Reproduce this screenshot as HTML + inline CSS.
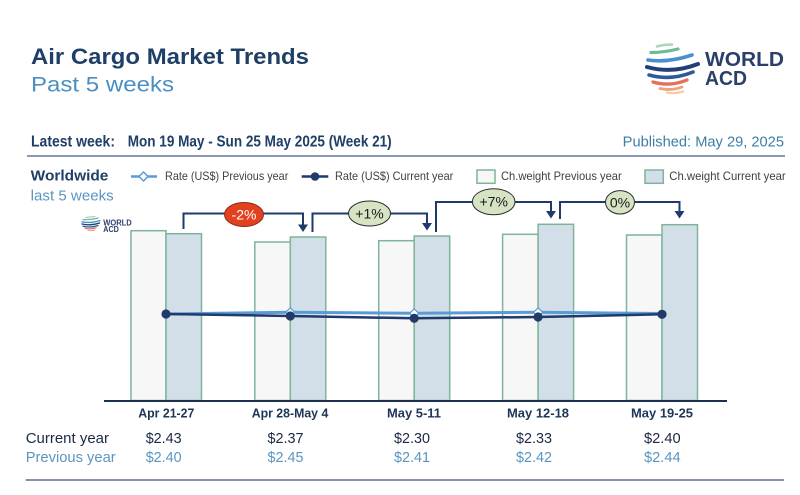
<!DOCTYPE html>
<html>
<head>
<meta charset="utf-8">
<style>
  html,body{margin:0;padding:0;background:#ffffff;}
  body{width:800px;height:495px;overflow:hidden;}
  svg{display:block;}
  text{font-family:"Liberation Sans", Arial, sans-serif;}
</style>
</head>
<body>
<svg width="800" height="495" viewBox="0 0 800 495" xmlns="http://www.w3.org/2000/svg">
  <rect width="800" height="495" fill="#ffffff"/>

  <!-- Header -->
  <text x="31" y="64" font-size="22.5" font-weight="bold" fill="#1f3f66" textLength="278" lengthAdjust="spacingAndGlyphs">Air Cargo Market Trends</text>
  <text x="31" y="91.5" font-size="21" fill="#4a8fc2" textLength="143" lengthAdjust="spacingAndGlyphs">Past 5 weeks</text>

  <!-- Big logo -->
  <g fill="none" stroke-linecap="round">
    <path d="M657 46.5 Q664 44.5 672 44.5" stroke="#a9d5bc" stroke-width="2.5"/>
    <path d="M651 52.5 Q664 52.5 678 49" stroke="#6fb996" stroke-width="3.2"/>
    <path d="M648 60 Q668 63 692 55" stroke="#4a8fd0" stroke-width="3.6"/>
    <path d="M647 67 Q672 74 698 64" stroke="#233f78" stroke-width="4"/>
    <path d="M649 75 Q671 81 693 72" stroke="#2d5a9a" stroke-width="3.6"/>
    <path d="M653 82 Q670 87 687 80" stroke="#e2705a" stroke-width="3.3"/>
    <path d="M660 88.5 Q672 91 682 87" stroke="#f0a074" stroke-width="2.8"/>
    <path d="M667 92.5 Q675 94 683 91.5" stroke="#f6cba6" stroke-width="2.4"/>
  </g>
  <text x="705" y="66" font-size="20" font-weight="bold" fill="#2a3f6b" textLength="79" lengthAdjust="spacingAndGlyphs">WORLD</text>
  <text x="705" y="85" font-size="20" font-weight="bold" fill="#2a3f6b" textLength="42" lengthAdjust="spacingAndGlyphs">ACD</text>

  <!-- Latest week line -->
  <text x="31" y="146.7" font-size="16" font-weight="bold" fill="#1f3f66" textLength="84" lengthAdjust="spacingAndGlyphs">Latest week:</text>
  <text x="127.7" y="146.7" font-size="16" font-weight="bold" fill="#1f3f66" textLength="264" lengthAdjust="spacingAndGlyphs">Mon 19 May - Sun 25 May 2025 (Week 21)</text>
  <text x="622.7" y="146.7" font-size="14.5" fill="#3d7ea6" textLength="161.3" lengthAdjust="spacingAndGlyphs">Published: May 29, 2025</text>
  <line x1="27" y1="156" x2="785" y2="156" stroke="#7a8aa8" stroke-width="1.8"/>

  <!-- Worldwide -->
  <text x="30.7" y="180.7" font-size="15" font-weight="bold" fill="#1f3f66" textLength="77.7" lengthAdjust="spacingAndGlyphs">Worldwide</text>
  <text x="30.7" y="200.7" font-size="15" fill="#5b95c0" textLength="83" lengthAdjust="spacingAndGlyphs">last 5 weeks</text>

  <!-- Legend -->
  <line x1="131" y1="176.5" x2="157" y2="176.5" stroke="#5b9bd5" stroke-width="2.5"/>
  <path d="M143.5 172 L148 176.5 L143.5 181 L139 176.5 Z" fill="#ffffff" stroke="#5b9bd5" stroke-width="1.5"/>
  <text x="165" y="180" font-size="12" fill="#404040" textLength="123.3" lengthAdjust="spacingAndGlyphs">Rate (US$) Previous year</text>

  <line x1="301.7" y1="176.5" x2="328.3" y2="176.5" stroke="#1f3a6b" stroke-width="2.5"/>
  <circle cx="315" cy="176.5" r="4.3" fill="#1f3a6b"/>
  <text x="335" y="180" font-size="12" fill="#404040" textLength="118.3" lengthAdjust="spacingAndGlyphs">Rate (US$) Current year</text>

  <rect x="477" y="170" width="18" height="13.3" fill="#f7f7f7" stroke="#7fb39a" stroke-width="1.5"/>
  <text x="501" y="180" font-size="12" fill="#404040" textLength="120.7" lengthAdjust="spacingAndGlyphs">Ch.weight Previous year</text>

  <rect x="645" y="170" width="18.3" height="13.3" fill="#d3dfe8" stroke="#7fb39a" stroke-width="1.5"/>
  <text x="669.3" y="180" font-size="12" fill="#404040" textLength="116.4" lengthAdjust="spacingAndGlyphs">Ch.weight Current year</text>

  <!-- Small logo -->
  <g fill="none" stroke-linecap="round">
    <path d="M86 217.5 Q91 216.5 95 216.8" stroke="#8cc7a8" stroke-width="1"/>
    <path d="M83 219.5 Q91 220 98 218" stroke="#6fb996" stroke-width="1.2"/>
    <path d="M82 221.8 Q91 223.5 100 220.5" stroke="#4a8fd0" stroke-width="1.3"/>
    <path d="M82 224 Q91 226 99.5 223" stroke="#233f78" stroke-width="1.4"/>
    <path d="M83 226.3 Q91 228 98 225.5" stroke="#2d5a9a" stroke-width="1.3"/>
    <path d="M85 228.3 Q91 229.5 96 227.8" stroke="#e2705a" stroke-width="1.2"/>
    <path d="M88 230.3 Q92 231 95 230" stroke="#f0a074" stroke-width="1"/>
  </g>
  <text x="103.3" y="225.3" font-size="8" font-weight="bold" fill="#2a3f6b" textLength="28.4" lengthAdjust="spacingAndGlyphs">WORLD</text>
  <text x="103.3" y="232" font-size="8" font-weight="bold" fill="#2a3f6b" textLength="15.5" lengthAdjust="spacingAndGlyphs">ACD</text>

  <!-- Bars -->
  <g stroke="#7fb39a" stroke-width="1.5">
    <rect x="131" y="230.7" width="35" height="169.8" fill="#f7f7f7"/>
    <rect x="166" y="233.7" width="35.5" height="166.8" fill="#d3dfe8"/>

    <rect x="254.8" y="242" width="35.5" height="158.5" fill="#f7f7f7"/>
    <rect x="290.3" y="237" width="35.5" height="163.5" fill="#d3dfe8"/>

    <rect x="378.7" y="240.7" width="35.5" height="159.8" fill="#f7f7f7"/>
    <rect x="414.2" y="236" width="35.5" height="164.5" fill="#d3dfe8"/>

    <rect x="502.6" y="234.3" width="35.5" height="166.2" fill="#f7f7f7"/>
    <rect x="538.1" y="224.3" width="35.5" height="176.2" fill="#d3dfe8"/>

    <rect x="626.5" y="235" width="35.5" height="165.5" fill="#f7f7f7"/>
    <rect x="662" y="224.7" width="35.5" height="175.8" fill="#d3dfe8"/>
  </g>

  <!-- Axis -->
  <line x1="104" y1="401" x2="727" y2="401" stroke="#1d3050" stroke-width="2"/>

  <!-- Connectors -->
  <g fill="none" stroke="#1f3a6b" stroke-width="2">
    <path d="M183.5 229 V213.5 H303 V226"/>
    <path d="M312.5 232 V213.5 H427 V224"/>
    <path d="M436 232 V202 H551 V212"/>
    <path d="M560 219 V202 H679.5 V212"/>
  </g>
  <g fill="#1f3a6b">
    <path d="M298 224.5 H308 L303 232 Z"/>
    <path d="M422 223 H432 L427 230.5 Z"/>
    <path d="M546 211 H556 L551 218.5 Z"/>
    <path d="M674.5 211 H684.5 L679.5 218.5 Z"/>
  </g>

  <!-- Change labels -->
  <ellipse cx="244" cy="214.5" rx="19.5" ry="12" fill="#e2401f" stroke="#8b2a1a" stroke-width="1"/>
  <text x="244" y="219.5" font-size="14" fill="#ffffff" text-anchor="middle">-2%</text>

  <ellipse cx="369.5" cy="213.5" rx="21" ry="12.5" fill="#d6e4c4" stroke="#2b2b2b" stroke-width="1"/>
  <text x="369.5" y="218.5" font-size="14" fill="#1a1a1a" text-anchor="middle">+1%</text>

  <ellipse cx="493.7" cy="201.7" rx="21.3" ry="13" fill="#d6e4c4" stroke="#2b2b2b" stroke-width="1"/>
  <text x="493.7" y="206.7" font-size="14" fill="#1a1a1a" text-anchor="middle">+7%</text>

  <ellipse cx="620" cy="202.3" rx="14.5" ry="11.7" fill="#d6e4c4" stroke="#2b2b2b" stroke-width="1"/>
  <text x="620" y="207.3" font-size="14" fill="#1a1a1a" text-anchor="middle">0%</text>

  <!-- Rate lines -->
  <polyline points="166,314 290.3,312.3 414.2,313.3 538.1,312.3 662,313.5" fill="none" stroke="#5b9bd5" stroke-width="3"/>
  <g fill="#ffffff" stroke="#5b9bd5" stroke-width="1.2">
    <path d="M290.3 307.8 L294.8 312.3 L290.3 316.8 L285.8 312.3 Z"/>
    <path d="M414.2 308.8 L418.7 313.3 L414.2 317.8 L409.7 313.3 Z"/>
    <path d="M538.1 307.8 L542.6 312.3 L538.1 316.8 L533.6 312.3 Z"/>
  </g>
  <polyline points="166,314 290.3,316 414.2,318.3 538.1,317 662,314.3" fill="none" stroke="#1f3a6b" stroke-width="2.5"/>
  <g fill="#1f3a6b">
    <circle cx="166" cy="314" r="4.6"/>
    <circle cx="290.3" cy="316" r="4.6"/>
    <circle cx="414.2" cy="318.3" r="4.6"/>
    <circle cx="538.1" cy="317" r="4.6"/>
    <circle cx="662" cy="314.3" r="4.6"/>
  </g>

  <!-- Category labels -->
  <g font-size="12.5" font-weight="bold" fill="#1f3558" text-anchor="middle">
    <text x="166.3" y="417.3" textLength="56" lengthAdjust="spacingAndGlyphs">Apr 21-27</text>
    <text x="290" y="417.3" textLength="76.6" lengthAdjust="spacingAndGlyphs">Apr 28-May 4</text>
    <text x="414" y="417.3" textLength="54" lengthAdjust="spacingAndGlyphs">May 5-11</text>
    <text x="538" y="417.3" textLength="62" lengthAdjust="spacingAndGlyphs">May 12-18</text>
    <text x="662" y="417.3" textLength="62" lengthAdjust="spacingAndGlyphs">May 19-25</text>
  </g>

  <!-- Values table -->
  <text x="25.7" y="443" font-size="15" fill="#1a2a44" textLength="83.3" lengthAdjust="spacingAndGlyphs">Current year</text>
  <text x="25.7" y="462" font-size="15" fill="#5b95c0" textLength="90" lengthAdjust="spacingAndGlyphs">Previous year</text>
  <g font-size="15" fill="#1a2a44" text-anchor="middle">
    <text x="163.7" y="443" textLength="36" lengthAdjust="spacingAndGlyphs">$2.43</text>
    <text x="285.5" y="443" textLength="36" lengthAdjust="spacingAndGlyphs">$2.37</text>
    <text x="412" y="443" textLength="36" lengthAdjust="spacingAndGlyphs">$2.30</text>
    <text x="534" y="443" textLength="36" lengthAdjust="spacingAndGlyphs">$2.33</text>
    <text x="662.3" y="443" textLength="36.7" lengthAdjust="spacingAndGlyphs">$2.40</text>
  </g>
  <g font-size="15" fill="#5b95c0" text-anchor="middle">
    <text x="163.7" y="462" textLength="36" lengthAdjust="spacingAndGlyphs">$2.40</text>
    <text x="285.5" y="462" textLength="36" lengthAdjust="spacingAndGlyphs">$2.45</text>
    <text x="412" y="462" textLength="36" lengthAdjust="spacingAndGlyphs">$2.41</text>
    <text x="534" y="462" textLength="36" lengthAdjust="spacingAndGlyphs">$2.42</text>
    <text x="662.3" y="462" textLength="36.7" lengthAdjust="spacingAndGlyphs">$2.44</text>
  </g>

  <line x1="25.7" y1="480" x2="784" y2="480" stroke="#8a8fb0" stroke-width="2"/>
</svg>
</body>
</html>
